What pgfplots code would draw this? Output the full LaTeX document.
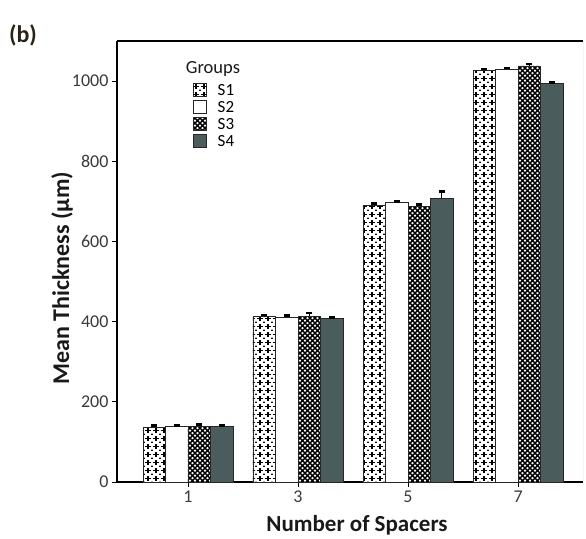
\documentclass[border=0pt]{standalone}
\usepackage{fontspec}
\setmainfont{Carlito}
\usepackage{pgfplots}
\usepackage{pgfplotstable}
\pgfplotsset{compat=1.18}
\usetikzlibrary{patterns}

\pgfdeclarepatternformonly{xhatch}{\pgfqpoint{-1pt}{-1pt}}{\pgfqpoint{6pt}{6pt}}{\pgfqpoint{5pt}{5pt}}{%
  \pgfsetlinewidth{1.4pt}%
  \pgfpathmoveto{\pgfqpoint{0pt}{0pt}}\pgfpathlineto{\pgfqpoint{5pt}{5pt}}%
  \pgfpathmoveto{\pgfqpoint{0pt}{5pt}}\pgfpathlineto{\pgfqpoint{5pt}{0pt}}%
  \pgfusepath{stroke}}

\pgfdeclarepatternformonly{plusses}{\pgfqpoint{-1pt}{-1pt}}{\pgfqpoint{9pt}{9pt}}{\pgfqpoint{8pt}{8pt}}{%
  \pgfsetlinewidth{1.2pt}%
  \pgfpathmoveto{\pgfqpoint{1.4pt}{4pt}}\pgfpathlineto{\pgfqpoint{6.6pt}{4pt}}%
  \pgfpathmoveto{\pgfqpoint{4pt}{1.4pt}}\pgfpathlineto{\pgfqpoint{4pt}{6.6pt}}%
  \pgfusepath{stroke}%
  \pgfpathcircle{\pgfqpoint{0pt}{0pt}}{0.6pt}%
  \pgfpathcircle{\pgfqpoint{8pt}{0pt}}{0.6pt}%
  \pgfpathcircle{\pgfqpoint{0pt}{8pt}}{0.6pt}%
  \pgfpathcircle{\pgfqpoint{8pt}{8pt}}{0.6pt}%
  \pgfusepath{fill}}

\definecolor{sfour}{HTML}{4B5C5C}
\definecolor{tickgray}{HTML}{3A3A3A}
\definecolor{bcol}{HTML}{2A2416}

\pgfplotstableread{
x S1 e1 S2 e2 S3 e3 S4 e4
0 136 5 138 3 139 5 138 3
1 412 5 411 4 414 8 407 4
2 690 4 697 3 688 4 708 17
3 1026 4 1030 3 1038 5 994 3
}\datatab

\begin{document}
\begin{tikzpicture}
\path (-117pt,-55pt) rectangle (469pt,482pt);
\node[font=\fontsize{24}{26}\selectfont\bfseries, text=bcol] at (-94pt,447pt) {(b)};
\begin{axis}[
  scale only axis,
  width=466pt, height=441pt,
  xmin=-0.645, xmax=3.59,
  ymin=0, ymax=1100,
  axis x line*=bottom, axis y line*=left,
  axis line style={line width=1.6pt},
  xtick={0,1,2,3}, xticklabels={1,3,5,7},
  ytick={0,200,400,600,800,1000},
  tick align=outside,
  major tick length=5pt,
  tick style={black, line width=0.8pt},
  ticklabel style={font=\fontsize{18}{20}\selectfont, text=tickgray},
  /pgf/number format/assume math mode=true,
  /pgf/number format/1000 sep={},
  xlabel={Number of Spacers},
  ylabel={Mean Thickness (μm)},
  label style={font=\fontsize{23}{26}\selectfont\bfseries, text=black!90},
  xlabel style={at={(axis description cs:0.515,-0.0975)}, anchor=center},
  ylabel style={at={(axis description cs:-0.118,0.462)}, anchor=center, font=\fontsize{24}{26}\selectfont\bfseries},
  ybar, bar width=0.205,
  every axis plot/.append style={draw=black!85, line width=0.7pt},
  error bars/error mark=-,
  error bars/error bar style={line width=0.8pt, black},
  error bars/error mark options={rotate=90, line width=2.6pt, mark size=3pt, black},
  legend image code/.code={\draw[#1, line width=0.7pt] (0pt,-6pt) rectangle (13pt,7pt);
    \pgfpathrectangle{\pgfqpoint{13pt}{0pt}}{\pgfqpoint{10pt}{0.1pt}}\pgfusepath{use as bounding box}},
  legend style={at={(axis cs:0.02,1003)}, anchor=north west, draw=none, fill=none,
    font=\fontsize{17}{17}\selectfont, row sep=1pt,
    nodes={inner sep=1pt, text height=12pt, text depth=2pt}},
  legend cell align=left,
]
\addplot[bar shift=-0.3075, fill=white, postaction={pattern=plusses},
  error bars/.cd, y dir=plus, y explicit] table[x=x, y=S1, y error=e1] {\datatab};
\addlegendentry{S1}
\addplot[bar shift=-0.1025, fill=white,
  error bars/.cd, y dir=plus, y explicit] table[x=x, y=S2, y error=e2] {\datatab};
\addlegendentry{S2}
\addplot[bar shift=0.1025, fill=white, postaction={pattern=xhatch},
  error bars/.cd, y dir=plus, y explicit] table[x=x, y=S3, y error=e3] {\datatab};
\addlegendentry{S3}
\addplot[bar shift=0.3075, fill=sfour,
  error bars/.cd, y dir=plus, y explicit] table[x=x, y=S4, y error=e4] {\datatab};
\addlegendentry{S4}
\node[font=\fontsize{18.5}{19}\selectfont, text=black!90] at (axis cs:0.227,1030) {Groups};
\draw[line width=1.6pt] (rel axis cs:0,1) -- (rel axis cs:1,1);
\draw[gray!70, line width=0.8pt] (rel axis cs:1,1) -- (rel axis cs:1,0);
\end{axis}
\end{tikzpicture}
\end{document}
